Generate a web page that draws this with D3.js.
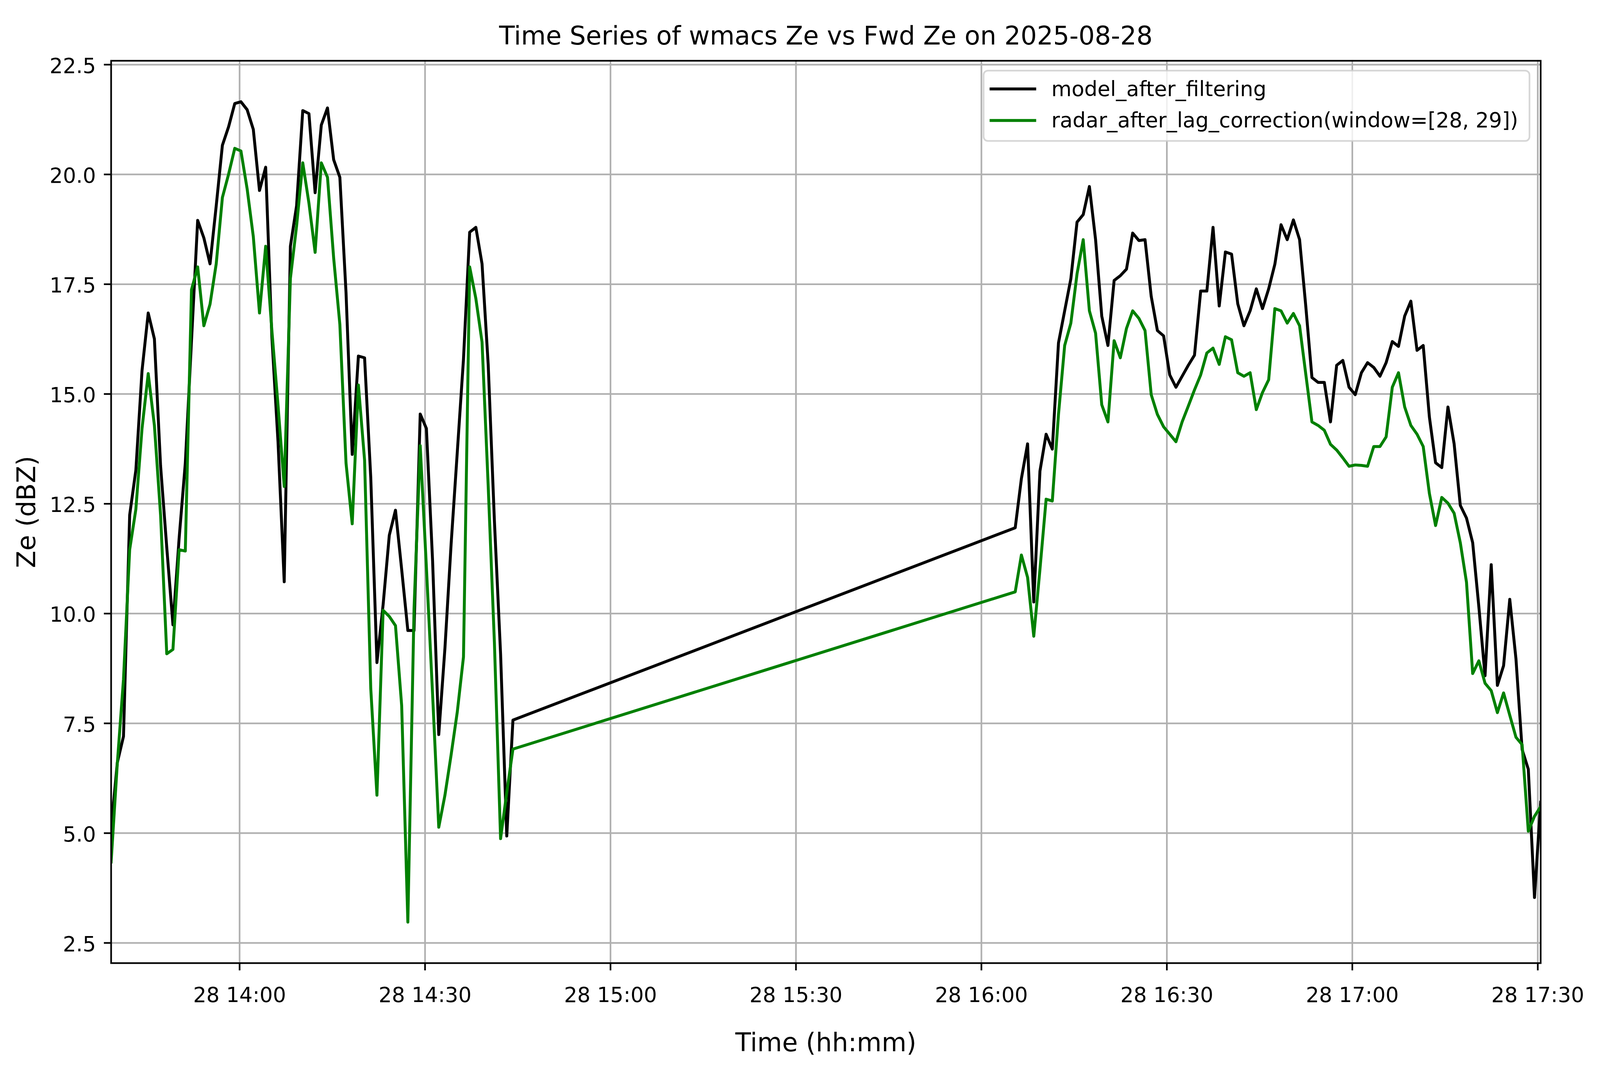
<!DOCTYPE html>
<html>
<head>
<meta charset="utf-8">
<script src="https://cdn.jsdelivr.net/npm/d3@7"></script>
<style>
  html, body { margin: 0; padding: 0; background: #ffffff; overflow: hidden; }
  #chart svg { display: block; }
  text { font-family: "DejaVu Sans", sans-serif; fill: #000000; }
</style>
</head>
<body>
<div id="chart"></div>
<script>
// sample times (2025-08-28), one per minute, with a gap between the two flights
var times = [
  "13:39:15","13:40:15","13:41:15","13:42:15","13:43:15","13:44:15","13:45:15","13:46:15","13:47:15","13:48:15",
  "13:49:15","13:50:15","13:51:15","13:52:15","13:53:15","13:54:15","13:55:15","13:56:15","13:57:15","13:58:15",
  "13:59:15","14:00:15","14:01:15","14:02:15","14:03:15","14:04:15","14:05:15","14:06:15","14:07:15","14:08:15",
  "14:09:15","14:10:15","14:11:15","14:12:15","14:13:15","14:14:15","14:15:15","14:16:15","14:17:15","14:18:15",
  "14:19:15","14:20:15","14:21:15","14:22:15","14:23:15","14:24:15","14:25:15","14:26:15","14:27:15","14:28:15",
  "14:29:15","14:30:15","14:31:15","14:32:15","14:33:15","14:34:15","14:35:15","14:36:15","14:37:15","14:38:15",
  "14:39:15","14:40:15","14:41:15","14:42:15","14:43:15","14:44:15",
  "16:05:30","16:06:30","16:07:30","16:08:30","16:09:30","16:10:30","16:11:30","16:12:30","16:13:30","16:14:30",
  "16:15:30","16:16:30","16:17:30","16:18:30","16:19:30","16:20:30","16:21:30","16:22:30","16:23:30","16:24:30",
  "16:25:30","16:26:30","16:27:30","16:28:30","16:29:30","16:30:30","16:31:30","16:32:30","16:33:30","16:34:30",
  "16:35:30","16:36:30","16:37:30","16:38:30","16:39:30","16:40:30","16:41:30","16:42:30","16:43:30","16:44:30",
  "16:45:30","16:46:30","16:47:30","16:48:30","16:49:30","16:50:30","16:51:30","16:52:30","16:53:30","16:54:30",
  "16:55:30","16:56:30","16:57:30","16:58:30","16:59:30","17:00:30","17:01:30","17:02:30","17:03:30","17:04:30",
  "17:05:30","17:06:30","17:07:30","17:08:30","17:09:30","17:10:30","17:11:30","17:12:30","17:13:30","17:14:30",
  "17:15:30","17:16:30","17:17:30","17:18:30","17:19:30","17:20:30","17:21:30","17:22:30","17:23:30","17:24:30",
  "17:25:30","17:26:30","17:27:30","17:28:30","17:29:30","17:30:30"];

var model_ze = [
  5.1, 6.6, 7.2, 12.24, 13.26, 15.53, 16.84, 16.25, 13.36, 11.5,
  9.74, 11.71, 13.42, 16.2, 18.95, 18.55, 17.96, 19.28, 20.66, 21.08,
  21.61, 21.65, 21.47, 21.02, 19.63, 20.16, 16.3, 13.9, 10.72, 18.36,
  19.28, 21.45, 21.38, 19.58, 21.12, 21.51, 20.33, 19.93, 17.3, 13.62,
  15.86, 15.82, 13.09, 8.88, 10.2, 11.78, 12.35, 11.0, 9.61, 9.61,
  14.54, 14.21, 11.2, 7.24, 9.21, 11.58, 13.68, 15.79, 18.68, 18.79,
  17.96, 15.66, 12.11, 9.08, 4.93, 7.57,
  11.95, 13.07, 13.86, 10.26, 13.24, 14.08, 13.74, 16.16, 16.89, 17.62,
  18.91, 19.08, 19.72, 18.51, 16.77, 16.1, 17.58, 17.69, 17.84, 18.66,
  18.49, 18.51, 17.22, 16.44, 16.32, 15.43, 15.15, 15.4, 15.65, 15.88,
  17.34, 17.34, 18.79, 17.0, 18.23, 18.18, 17.05, 16.55, 16.89, 17.39,
  16.94, 17.39, 17.95, 18.85, 18.51, 18.96, 18.51, 17.0, 15.37, 15.26,
  15.26, 14.36, 15.65, 15.76, 15.15, 14.98, 15.48, 15.71, 15.6, 15.4,
  15.71, 16.19, 16.08, 16.77, 17.11, 15.99, 16.1, 14.47, 13.43, 13.32,
  14.7, 13.86, 12.46, 12.17, 11.61, 10.15, 8.58, 11.11, 8.36, 8.81,
  10.32, 8.97, 6.9, 6.45, 3.53, 5.7];

var radar_ze = [
  4.34, 6.58, 8.5, 11.45, 12.37, 14.21, 15.46, 14.28, 12.24, 9.08,
  9.18, 11.45, 11.42, 17.37, 17.89, 16.55, 17.04, 17.96, 19.47, 20.0,
  20.59, 20.53, 19.67, 18.58, 16.84, 18.36, 16.45, 14.74, 12.89, 17.63,
  18.82, 20.26, 19.34, 18.22, 20.26, 19.93, 18.09, 16.58, 13.42, 12.04,
  15.2, 13.49, 8.29, 5.86, 10.07, 9.93, 9.72, 7.9, 2.97, 10.1,
  13.82, 11.05, 8.16, 5.13, 5.86, 6.78, 7.76, 9.01, 17.89, 17.17,
  16.18, 12.89, 9.34, 4.87, 5.92, 6.91,
  10.49, 11.33, 10.82, 9.48, 11.0, 12.6, 12.56, 14.53, 16.1, 16.61,
  17.73, 18.51, 16.89, 16.38, 14.75, 14.36, 16.21, 15.82, 16.49, 16.89,
  16.72, 16.44, 14.98, 14.53, 14.25, 14.08, 13.91, 14.36, 14.72, 15.09,
  15.43, 15.93, 16.04, 15.67, 16.3, 16.23, 15.48, 15.4, 15.48, 14.64,
  15.03, 15.32, 16.94, 16.89, 16.61, 16.83, 16.55, 15.45, 14.36, 14.28,
  14.17, 13.85, 13.72, 13.54, 13.35, 13.38, 13.37, 13.35, 13.8, 13.8,
  14.02, 15.15, 15.48, 14.7, 14.28, 14.08, 13.8, 12.73, 12.0, 12.64,
  12.51, 12.28, 11.61, 10.71, 8.63, 8.92, 8.41, 8.24, 7.74, 8.19,
  7.68, 7.18, 7.01, 5.04, 5.38, 5.6];

var series_names = ["model_after_filtering", "radar_after_lag_correction(window=[28, 29])"];
var series_colors = ["#000000", "#008000"];

var x_ticks = ["14:00", "14:30", "15:00", "15:30", "16:00", "16:30", "17:00", "17:30"];
var x_tick_labels = ["28 14:00", "28 14:30", "28 15:00", "28 15:30", "28 16:00", "28 16:30", "28 17:00", "28 17:30"];
var y_ticks = [2.5, 5.0, 7.5, 10.0, 12.5, 15.0, 17.5, 20.0, 22.5];
var y_tick_labels = ["2.5", "5.0", "7.5", "10.0", "12.5", "15.0", "17.5", "20.0", "22.5"];

var title_text = "Time Series of wmacs Ze vs Fwd Ze on 2025-08-28";
var x_label = "Time (hh:mm)";
var y_label = "Ze (dBZ)";

// layout is measured on a 5205x2740 figure and mapped onto the actual window
var W = 5205, H = 2740;
var VW = window.innerWidth || W, VH = window.innerHeight || H;
var sx = VW / W, sy = VH / H, fs = Math.min(sx, sy);
function X(v) { return v * sx; }
function Y(v) { return v * sy; }
function S(v) { return v * fs; }

// plot box (window.top is reserved, so short names)
var pl = X(361.5), pr = X(5012), pt = Y(155.6), pb = Y(2466.3);
var tick_font = S(67.6), label_font = S(83);
var thin = S(5.4), line_w = S(9.5), tick_len = S(23.6);

var parseTime = d3.timeParse("%Y-%m-%d %H:%M:%S");
var dates = times.map(function(t) { return parseTime("2025-08-28 " + t); });

// matplotlib-like 5% margin on y
var all_vals = model_ze.concat(radar_ze);
var vmin = d3.min(all_vals), vmax = d3.max(all_vals);
var pad = (vmax - vmin) * 0.05;

var x = d3.scaleTime().domain(d3.extent(dates)).range([pl, pr]);
var y = d3.scaleLinear().domain([vmin - pad, vmax + pad]).range([pb, pt]);

var x_tick_dates = x_ticks.map(function(t) { return parseTime("2025-08-28 " + t + ":00"); });

var svg = d3.select("#chart").append("svg")
    .attr("width", VW)
    .attr("height", VH);

svg.append("rect").attr("width", VW).attr("height", VH).attr("fill", "#ffffff");

svg.append("defs").append("clipPath").attr("id", "plotclip")
  .append("rect")
    .attr("x", pl).attr("y", pt)
    .attr("width", pr - pl).attr("height", pb - pt);

// grid
var grid = svg.append("g").attr("class", "grid");
grid.append("g")
    .attr("transform", "translate(0," + pb + ")")
    .call(d3.axisBottom(x).tickValues(x_tick_dates).tickSize(-(pb - pt)).tickFormat(""))
    .call(function(g) { g.select(".domain").remove(); });
grid.append("g")
    .attr("transform", "translate(" + pl + ",0)")
    .call(d3.axisLeft(y).tickValues(y_ticks).tickSize(-(pr - pl)).tickFormat(""))
    .call(function(g) { g.select(".domain").remove(); });
grid.selectAll("line").attr("stroke", "#b0b0b0").attr("stroke-width", thin);

// series
var line = d3.line()
    .x(function(d, i) { return x(dates[i]); })
    .y(function(d) { return y(d); });

[model_ze, radar_ze].forEach(function(vals, s) {
  svg.append("path")
      .datum(vals)
      .attr("clip-path", "url(#plotclip)")
      .attr("fill", "none")
      .attr("stroke", series_colors[s])
      .attr("stroke-width", line_w)
      .attr("stroke-linejoin", "round")
      .attr("stroke-linecap", "square")
      .attr("d", line);
});

// axes
var xAxis = svg.append("g")
    .attr("transform", "translate(0," + pb + ")")
    .call(d3.axisBottom(x).tickValues(x_tick_dates).tickSizeInner(tick_len).tickSizeOuter(0)
      .tickFormat(function(d, i) { return x_tick_labels[i]; }));
xAxis.select(".domain").remove();
xAxis.selectAll("line").attr("stroke", "#000").attr("stroke-width", thin);
xAxis.selectAll("text")
    .attr("y", Y(99.7)).attr("dy", null)
    .attr("font-size", tick_font).attr("font-family", "DejaVu Sans").attr("fill", "#000");

var yAxis = svg.append("g")
    .attr("transform", "translate(" + pl + ",0)")
    .call(d3.axisLeft(y).tickValues(y_ticks).tickSizeInner(tick_len).tickSizeOuter(0)
      .tickFormat(function(d, i) { return y_tick_labels[i]; }));
yAxis.select(".domain").remove();
yAxis.selectAll("line").attr("stroke", "#000").attr("stroke-width", thin);
yAxis.selectAll("text")
    .attr("x", -S(49.5)).attr("dy", "0.4em")
    .attr("font-size", tick_font).attr("font-family", "DejaVu Sans").attr("fill", "#000");

// spines
svg.append("rect")
    .attr("x", pl).attr("y", pt)
    .attr("width", pr - pl).attr("height", pb - pt)
    .attr("fill", "none").attr("stroke", "#000").attr("stroke-width", thin);

// titles
svg.append("text")
    .attr("x", (pl + pr) / 2).attr("y", Y(114))
    .attr("text-anchor", "middle").attr("font-size", label_font)
    .text(title_text);

svg.append("text")
    .attr("x", (pl + pr) / 2).attr("y", Y(2692))
    .attr("text-anchor", "middle").attr("font-size", label_font)
    .text(x_label);

svg.append("text")
    .attr("transform", "translate(" + X(115) + "," + ((pt + pb) / 2) + ") rotate(-90)")
    .attr("text-anchor", "middle").attr("font-size", label_font)
    .text(y_label);

// legend, anchored to the upper right of the plot box
var legend = svg.append("g");
var box = legend.append("rect")
    .attr("rx", S(14)).attr("ry", S(14))
    .attr("fill", "#ffffff").attr("fill-opacity", 0.8)
    .attr("stroke", "#cccccc").attr("stroke-opacity", 0.8).attr("stroke-width", thin);

var box_right = pr - S(36.4), box_top = pt + S(32);
var text_w = 0;
var labels = series_names.map(function(name, i) {
  var t = legend.append("text")
      .attr("y", box_top + S(82.3 + i * 102.7))
      .attr("font-size", tick_font)
      .text(name);
  text_w = Math.max(text_w, t.node().getComputedTextLength());
  return t;
});
var box_left = box_right - (text_w + S(224 + 33));
box.attr("x", box_left).attr("y", box_top)
    .attr("width", box_right - box_left).attr("height", S(229));

series_names.forEach(function(name, i) {
  var ly = box_top + S(59.6 + i * 102.7);
  legend.append("line")
      .attr("x1", box_left + S(24.3)).attr("x2", box_left + S(166.3))
      .attr("y1", ly).attr("y2", ly)
      .attr("stroke", series_colors[i]).attr("stroke-width", line_w)
      .attr("stroke-linecap", "square");
  labels[i].attr("x", box_left + S(220.3));
});
</script>
</body>
</html>
